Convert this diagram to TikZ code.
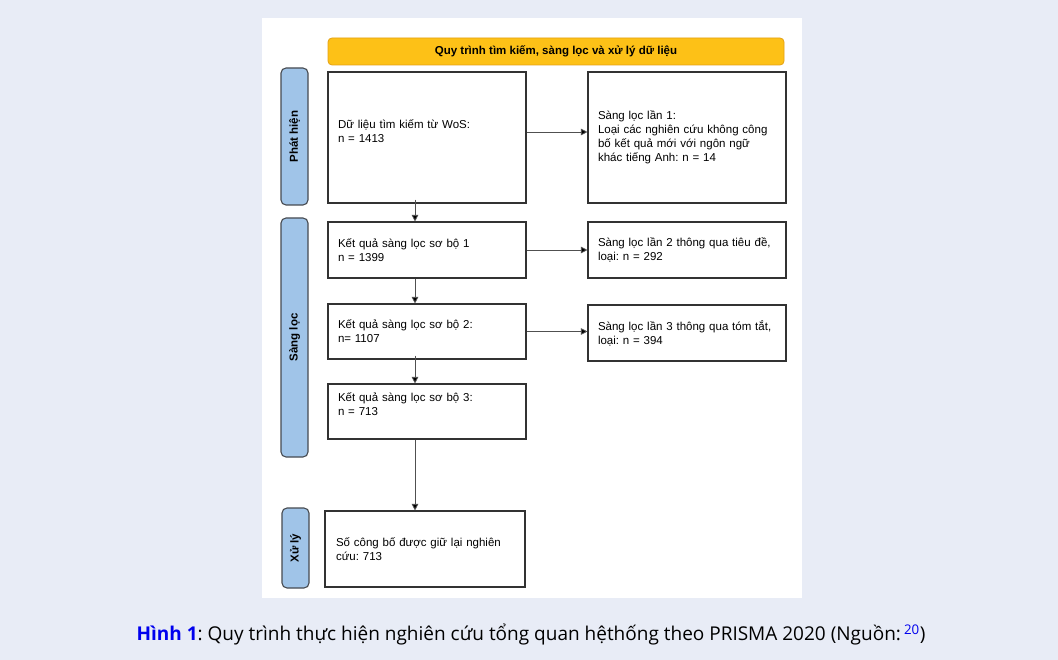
\documentclass[tikz,border=0pt]{standalone}
\usepackage{fontspec}
\setmainfont{Liberation Sans}
\newfontfamily\capfont{Open Sans}
\usetikzlibrary{arrows.meta}
\definecolor{bgc}{RGB}{232,236,246}
\definecolor{hdr}{RGB}{253,193,23}
\definecolor{hdrb}{RGB}{228,160,20}
\definecolor{sidec}{RGB}{160,196,232}
\definecolor{sideb}{RGB}{70,74,80}
\definecolor{boxb}{RGB}{50,50,50}
\definecolor{arrc}{RGB}{80,80,80}
\definecolor{linkc}{RGB}{0,0,238}
\tikzset{
  procbox/.style={draw=boxb, line width=1.1pt, fill=white, inner xsep=10pt, inner ysep=0pt,
    text width=178pt, minimum width=198pt, align=left,
    font=\fontsize{11.5}{14}\selectfont},
  sidebox/.style={draw=sideb, line width=1.1pt, fill=sidec, rounded corners=5pt, rotate=90,
    minimum height=27pt, inner sep=0pt, font=\bfseries\fontsize{11.5}{14}\selectfont},
  hdrbox/.style={draw=hdrb, line width=0.8pt, fill=hdr, rounded corners=4pt,
    minimum width=456pt, minimum height=27pt, inner sep=0pt,
    font=\bfseries\fontsize{11.5}{14}\selectfont},
  arr/.style={draw=arrc, line width=0.8pt, -{Triangle[length=6.5pt,width=6.5pt,fill=black]}},
}
\begin{document}
\frenchspacing
\begin{tikzpicture}[x=1pt,y=-1pt]
\useasboundingbox (0,0) rectangle (1058,660);
\fill[bgc] (0,0) rectangle (1058,660);
\fill[white] (262,18) rectangle (802,598);

\node[hdrbox] (hdr) at (556,51.5) {Quy trình tìm kiếm, sàng lọc và xử lý dữ liệu};

\node[sidebox, minimum width=137pt] (s1) at (294.5,136.5) {Phát hiện};
\node[sidebox, minimum width=239pt] (s2) at (294.5,337.5) {Sàng lọc};
\node[sidebox, minimum width=80pt] (s3) at (295.5,548) {Xử lý};

\node[procbox, minimum height=131pt] (b1) at (427,137.5) {Dữ liệu tìm kiếm từ WoS:\\n = 1413\\[-6pt]\strut};
\node[procbox, minimum height=131pt] (r1) at (687,137.5) {Sàng lọc lần 1:\\Loại các nghiên cứu không công\\bố kết quả mới với ngôn ngữ\\khác tiếng Anh: n = 14};
\node[procbox, minimum height=56pt] (b2) at (427,250) {Kết quả sàng lọc sơ bộ 1\\n = 1399};
\node[procbox, minimum height=56pt] (r2) at (687,250) {Sàng lọc lần 2 thông qua tiêu đề,\\loại: n = 292};
\node[procbox, minimum height=55pt] (b3) at (427,331.5) {Kết quả sàng lọc sơ bộ 2:\\n= 1107};
\node[procbox, minimum height=56pt] (r3) at (687,333) {Sàng lọc lần 3 thông qua tóm tắt,\\loại: n = 394};
\node[procbox, minimum height=55pt] (b4) at (427,411.5) {Kết quả sàng lọc sơ bộ 3:\\n = 713\\[-4pt]\strut};
\node[procbox, minimum width=200pt, minimum height=76pt] (b5) at (425,549) {Số công bố được giữ lại nghiên\\cứu: 713};

\draw[arr] ([yshift=5.5pt]b1.east) -- ([yshift=5.5pt]r1.west);
\draw[arr] (b2.east) -- (r2.west);
\draw[arr] (b3.east) -- (b3.east -| r3.west);

\draw[arr] ([xshift=-12pt,yshift=4pt]b1.south) -- ([xshift=-12pt]b2.north);
\draw[arr] ([xshift=-12pt]b2.south) -- ([xshift=-12pt]b3.north);
\draw[arr] ([xshift=-12pt,yshift=4pt]b3.south) -- ([xshift=-12pt]b4.north);
\draw[arr] ([xshift=-12pt]b4.south) -- ([xshift=-12pt]b4.south |- b5.north);

\node[font=\capfont\fontsize{19}{22}\selectfont, inner sep=0pt] (cap) at (531,635)
  {{\bfseries\color{linkc}Hình 1}: Quy trình thực hiện nghiên cứu tổng quan hệthống theo PRISMA 2020 (Nguồn:\,\textsuperscript{\color{linkc}20})};
\end{tikzpicture}
\end{document}
